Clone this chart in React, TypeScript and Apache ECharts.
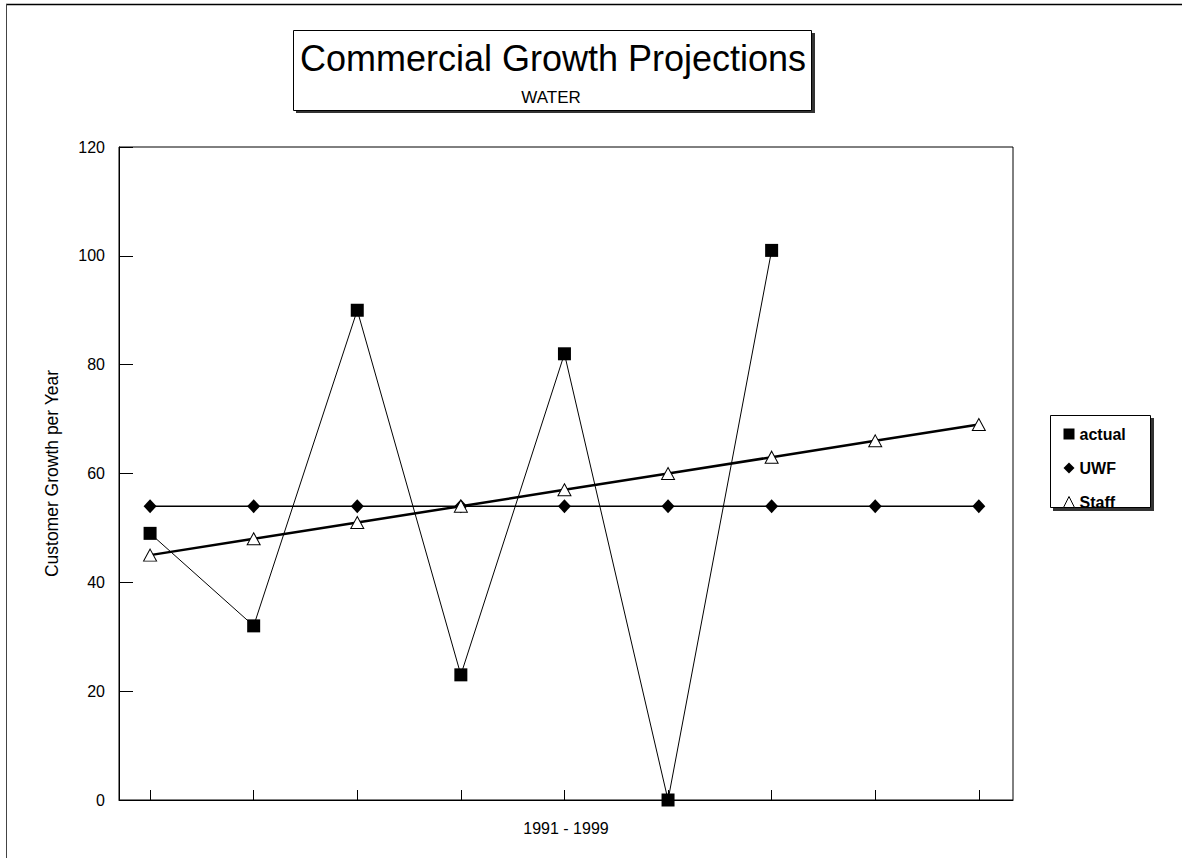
import React, { useEffect, useRef } from "react";
import * as echarts from "echarts";

const years = [1991, 1992, 1993, 1994, 1995, 1996, 1997, 1998, 1999];
const actual = [49, 32, 90, 23, 82, 0, 101];
const uwf = [54, 54, 54, 54, 54, 54, 54, 54, 54];
const staff = [45, 48, 51, 54, 57, 60, 63, 66, 69];
const yTicks = { min: 0, max: 120, interval: 20 };

const FONT = "'Liberation Sans', Arial, Helvetica, sans-serif";

export default function App() {
  const ref = useRef<HTMLDivElement>(null);
  useEffect(() => {
    document.body.style.margin = "0";
    const chart = echarts.init(ref.current!, null, { renderer: "svg" });
    const pair = (arr: number[]) => arr.map((v, i) => [years[i], v]);
    chart.setOption({
      animation: false,
      backgroundColor: "#fff",
      textStyle: { fontFamily: FONT, color: "#000" },
      grid: {
        left: 119,
        right: 169,
        top: 147,
        bottom: 58,
        show: true,
        borderColor: "#000",
        borderWidth: 1,
        backgroundColor: "transparent",
      },
      xAxis: {
        type: "value",
        min: 1990.7,
        max: 1999.33,
        name: "1991 - 1999",
        nameLocation: "middle",
        nameGap: 20,
        nameTextStyle: { fontSize: 16, color: "#000", fontFamily: FONT },
        axisLine: { show: true, lineStyle: { color: "#000", width: 1 } },
        axisTick: {
          show: true,
          inside: true,
          length: 10,
          customValues: years,
          lineStyle: { color: "#000", width: 1 },
        },
        axisLabel: { show: false },
        splitLine: { show: false },
      },
      yAxis: {
        type: "value",
        min: yTicks.min,
        max: yTicks.max,
        interval: yTicks.interval,
        name: "Customer Growth per Year",
        nameLocation: "middle",
        nameGap: 58,
        nameRotate: 90,
        nameTextStyle: { fontSize: 17.5, color: "#000", fontFamily: FONT },
        axisLine: { show: true, lineStyle: { color: "#000", width: 1 } },
        axisTick: { show: true, inside: true, length: 14, lineStyle: { color: "#000" } },
        axisLabel: { color: "#000", fontSize: 16, margin: 14, fontFamily: FONT },
        splitLine: { show: false },
      },
      legend: {
        orient: "vertical",
        left: 1058,
        top: 421,
        itemGap: 18,
        itemWidth: 11,
        itemHeight: 11,
        itemTextGap: 6,
        textStyle: { fontSize: 16, fontWeight: "bold", color: "#000", fontFamily: FONT },
        data: [
          { name: "actual", icon: "rect" },
          { name: "UWF", icon: "diamond" },
          { name: "Staff", icon: "triangle", itemStyle: { color: "#fff", borderColor: "#000", borderWidth: 1 } },
        ],
      },
      graphic: [
        // outer frame
        { type: "line", shape: { x1: 6, y1: 4.5, x2: 1182, y2: 4.5 }, style: { stroke: "#000", lineWidth: 1.5 } },
        { type: "line", shape: { x1: 6.5, y1: 4, x2: 6.5, y2: 858 }, style: { stroke: "#444", lineWidth: 1 } },
        // title box
        { type: "rect", shape: { x: 296, y: 33, width: 519, height: 80 }, style: { fill: "#333" }, z: 0 },
        { type: "rect", shape: { x: 293.5, y: 30.5, width: 518, height: 80 }, style: { fill: "#fff", stroke: "#000", lineWidth: 1 }, z: 1 },
        {
          type: "text",
          x: 553,
          y: 58,
          z: 2,
          style: { text: "Commercial Growth Projections", fontSize: 36, fontFamily: FONT, fill: "#000", align: "center", verticalAlign: "middle" },
        },
        {
          type: "text",
          x: 551,
          y: 97,
          z: 2,
          style: { text: "WATER", fontSize: 17, fontFamily: FONT, fill: "#000", align: "center", verticalAlign: "middle" },
        },
        // legend box
        { type: "rect", shape: { x: 1053, y: 418, width: 101, height: 93 }, style: { fill: "#333" }, z: 0 },
        { type: "rect", shape: { x: 1050.5, y: 415.5, width: 100, height: 92 }, style: { fill: "#fff", stroke: "#000", lineWidth: 1 }, z: 1 },
      ],
      series: [
        {
          name: "actual",
          type: "line",
          data: pair(actual),
          symbol: "rect",
          symbolSize: 13,
          lineStyle: { color: "#000", width: 1 },
          itemStyle: { color: "#000" },
          z: 3,
        },
        {
          name: "UWF",
          type: "line",
          data: pair(uwf),
          symbol: "diamond",
          symbolSize: [13, 14],
          lineStyle: { color: "#000", width: 1.5 },
          itemStyle: { color: "#000" },
          z: 3,
        },
        {
          name: "Staff",
          type: "line",
          data: pair(staff),
          symbol: "triangle",
          symbolSize: [13, 12],
          lineStyle: { color: "#000", width: 2.5 },
          itemStyle: { color: "#fff", borderColor: "#000", borderWidth: 1 },
          z: 4,
        },
      ],
    });
    return () => chart.dispose();
  }, []);
  return <div ref={ref} style={{ width: 1182, height: 858 }} />;
}
